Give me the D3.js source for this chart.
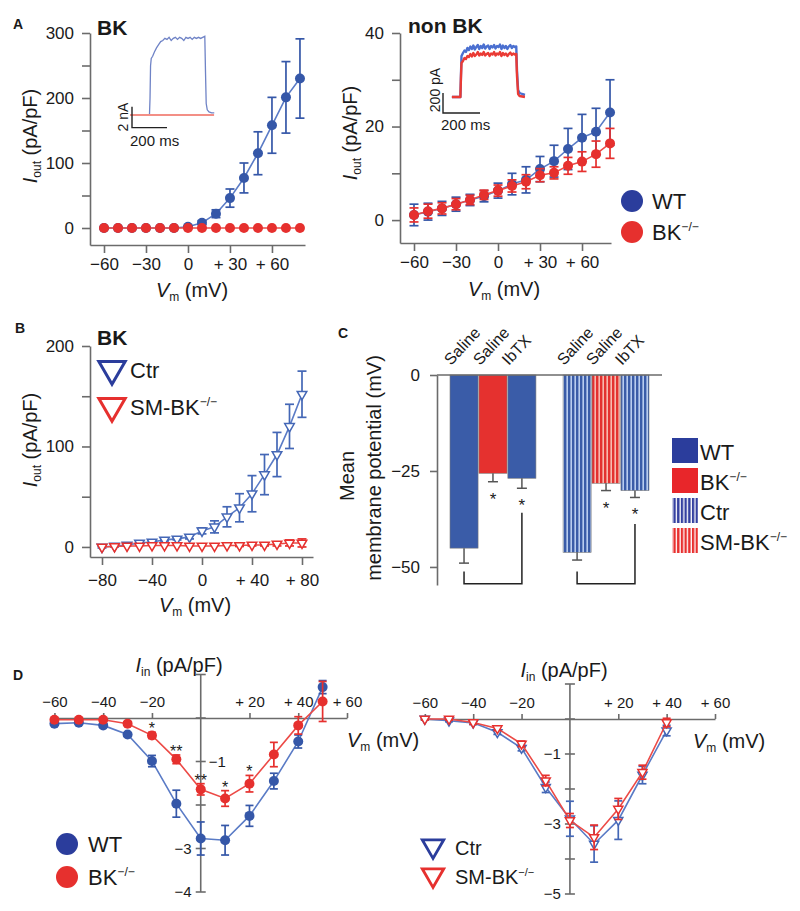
<!doctype html>
<html>
<head>
<meta charset="utf-8" />
<title></title>
<style>
    body { margin: 0; background: #fff; }
    svg text { font-family: "Liberation Sans", Arial, sans-serif; fill: #1a1a1a; }
</style>
</head>
<body>
<script src="https://cdn.jsdelivr.net/npm/d3@7"></script>
<script>
// ---- panel A : outward current, BK and non BK ----
var vmA = [-60,-50,-40,-30,-20,-10,0,10,20,30,40,50,60,70,80];
var bkWT = [0,0,0,0,0,0,2,8,22,46,77,115,158,201,230];
var bkWTErr = [0,0,0,0,0,0,1,3,6,14,23,33,43,55,61];
var bkKO = [0,0,0,0,0,0,0,0,0,0,0,0,0,0,0];
var bkKOErr = [0,0,0,0,0,0,0,0,0,0,0,0,0,0,0];
var nonWT = [1.1,1.8,2.5,3.4,4.3,5.1,6.3,7.7,8.6,10.9,12.6,15.2,17.6,18.9,23.0];
var nonWTErr = [2.3,1.8,1.5,1.5,1.2,1.2,1.6,2.3,2.8,2.7,3.4,4.4,5.0,5.0,7.0];
var nonKO = [1.1,1.9,2.5,3.4,4.3,5.4,6.3,7.3,8.2,9.6,10.1,11.6,12.5,14.1,16.4];
var nonKOErr = [1.5,1.5,1.2,1.2,1.0,1.0,1.2,1.3,1.5,1.4,1.3,1.8,2.1,2.8,3.2];
var xTicksA = [-60,-30,0,30,60];

// inset traces (ms, nA) and (ms, pA)
var insetLeftT = [100,103,106,110,118,128,140,152,164,176,188,200,212,224,236,248,260,272,284,296,308,320,332,344,356,368,380,392,404,416,420,424,430,440,455,470];
var insetLeftWT = [0,1.5,4.6,5.3,5.5,5.9,6.3,6.6,6.9,7.0,7.2,7.1,7.3,7.0,7.2,7.3,7.1,7.3,7.2,7.0,7.3,7.2,7.3,7.1,7.3,7.2,7.3,7.2,7.3,7.4,4.0,1.0,0.4,0.2,0.1,0.1];
var insetLeftKOT = [-11,469];
var insetLeftKO = [-0.1,-0.1];
var insetRightT = [48,94,97,100,108,116,124,132,140,148,156,164,172,180,188,196,204,212,220,228,236,244,252,260,268,276,284,292,300,308,316,324,332,340,348,356,364,372,380,388,396,400,406,414,428,443];
var insetRightWT = [-10,-10,200,400,430,455,440,480,460,495,470,505,465,490,510,470,500,480,515,475,495,505,470,500,485,510,475,500,490,515,470,505,480,500,470,495,510,480,500,490,495,250,60,30,20,10];
var insetRightKO = [-10,-10,180,330,350,380,370,400,390,420,395,430,400,415,440,405,425,410,440,405,420,430,400,425,415,440,405,425,415,440,400,430,410,425,400,420,435,410,425,415,420,200,20,0,-5,-10];

// ---- panel B : smooth muscle specific knockout ----
var vmB = [-80,-70,-60,-50,-40,-30,-20,-10,0,10,20,30,40,50,60,70,80];
var ctrB = [0,1,2,4,5,7,8,10,16,20,30,39,53,72,92,120,152];
var ctrBErr = [1,1,1,1,1,1,1,2,3,6,10,14,18,20,22,22,23];
var smB = [0,0.5,1,1,1.5,1.5,1.5,1,1,1,1.5,1.5,2,2,3,4,4];
var smBErr = [0,0,0,0,0,0,0,0,0,0,0,1,1,1,2,3,4];
var xTicksB = [-80,-40,0,40,80];

// ---- panel C : membrane potential ----
var cLabels = ["Saline","Saline","IbTX","Saline","Saline","IbTX"];
var cGroups = ["global","global","global","sm","sm","sm"];
var cKinds = ["WT","BK","WT","Ctr","SM","Ctr"];
var cMeans = [-45.1,-25.6,-26.9,-46.2,-28.2,-30.1];
var cErr = [3.9,2.2,2.6,2.0,1.9,1.8];
var cStars = ["","*","*","","*","*"];
var cBracketBase = -54.4, cBracketLeft = -51.2;
var cBracketRight = [-35.9,-38.8];
var cTicks = [0,-25,-50];

// ---- panel D : inward current ----
var vmD = [-60,-50,-40,-30,-20,-10,0,10,20,30,40,50];
var wtD = [-0.13,-0.11,-0.17,-0.38,-0.99,-1.97,-2.77,-2.81,-2.25,-1.45,-0.54,0.71];
var wtDErr = [0.03,0.03,0.03,0.04,0.13,0.31,0.38,0.34,0.24,0.18,0.15,0.15];
var koD = [-0.04,-0.04,-0.04,-0.13,-0.40,-0.95,-1.64,-1.85,-1.51,-0.84,-0.17,0.38];
var koDErr = [0.03,0.03,0.03,0.04,0.07,0.10,0.13,0.18,0.19,0.28,0.20,0.46];
var starsD = ["","","","","*","**","**","*","*","","",""];
var vmD2 = [-60,-50,-40,-30,-20,-10,0,10,20,30,40];
var ctrD = [0,-0.05,-0.11,-0.38,-0.83,-1.95,-2.85,-3.57,-2.89,-1.60,-0.33];
var ctrDErr = [0.03,0.03,0.05,0.06,0.08,0.15,0.50,0.52,0.55,0.25,0.15];
var smD = [0,0,-0.10,-0.27,-0.71,-1.76,-2.90,-3.38,-2.57,-1.52,-0.10];
var smDErr = [0.03,0.03,0.05,0.06,0.08,0.15,0.20,0.35,0.30,0.20,0.12];
var xTicksD = [-60,-40,-20,20,40,60];

var BLUE = "#3557a8", BLUE_L = "#5a7bc6", BLUE_D = "#2b3d9c";
var RED = "#e6302e", RED_L = "#ec4a46";
var AX = "#6b6b6b";

var svg = d3.select("body").append("svg").attr("width", 800).attr("height", 911);
var defs = svg.append("defs");

function signed(d) {
    if (d === 0) return "0";
    return d > 0 ? "+ " + d : "\u2212" + Math.abs(d);
}

function styleAxis(g, fs) {
    g.attr("font-family", null).attr("font-size", null);
    g.select(".domain").attr("stroke", AX).attr("stroke-width", 1.6);
    g.selectAll(".tick line").attr("stroke", AX).attr("stroke-width", 1.6);
    g.selectAll(".tick text").attr("fill", "#1a1a1a").style("font-size", fs + "px");
}

function text(x, y, s, fs, opts) {
    opts = opts || {};
    return svg.append("text").attr("x", x).attr("y", y).text(s)
        .style("font-size", fs + "px")
        .style("font-weight", opts.bold ? "bold" : null)
        .attr("text-anchor", opts.anchor || "start");
}

function iTitle(x, y, sub, fs, rotate) {
    var t = svg.append("text").attr("text-anchor", "middle").style("font-size", fs + "px")
        .attr("transform", "translate(" + x + "," + y + ")" + (rotate ? " rotate(-90)" : ""));
    t.append("tspan").text("I").style("font-style", "italic");
    t.append("tspan").text(sub).attr("dy", 4).style("font-size", (fs * 0.6) + "px");
    t.append("tspan").text(" (pA/pF)").attr("dy", -4);
}

function vTitle(x, y, fs, anchor) {
    var t = svg.append("text").attr("x", x).attr("y", y).attr("text-anchor", anchor || "middle")
        .style("font-size", fs + "px");
    t.append("tspan").text("V").style("font-style", "italic");
    t.append("tspan").text("m").attr("dy", 4).style("font-size", (fs * 0.6) + "px");
    t.append("tspan").text(" (mV)").attr("dy", -4);
}

function supLabel(x, y, main, sup, fs) {
    var t = text(x, y, "", fs);
    t.append("tspan").text(main);
    t.append("tspan").text(sup).attr("dy", -fs * 0.42).style("font-size", (fs * 0.55) + "px");
}

var tri = function(size) { return d3.symbol().type(d3.symbolTriangle).size(size)(); };

function drawSeries(x, y, xs, ys, es, o) {
    var g = svg.append("g");
    var pts = xs.map(function(v, i) { return {x: v, y: ys[i], e: es[i], i: i}; });
    g.append("path").datum(pts)
        .attr("fill", "none").attr("stroke", o.line).attr("stroke-width", 1.6)
        .attr("d", d3.line().x(function(d) { return x(d.x); }).y(function(d) { return y(d.y); }));
    var eb = g.append("g").attr("stroke", o.col).attr("stroke-width", 1.7);
    var w = o.cap || 4.5;
    pts.filter(function(d) { return d.e > 0; }).forEach(function(d) {
        var cx = x(d.x), a = y(d.y + d.e), b = y(d.y - d.e);
        eb.append("line").attr("x1", cx).attr("x2", cx).attr("y1", a).attr("y2", b);
        eb.append("line").attr("x1", cx - w).attr("x2", cx + w).attr("y1", a).attr("y2", a);
        eb.append("line").attr("x1", cx - w).attr("x2", cx + w).attr("y1", b).attr("y2", b);
    });
    if (o.marker === "circle") {
        g.selectAll("circle").data(pts).enter().append("circle")
            .attr("cx", function(d) { return x(d.x); })
            .attr("cy", function(d) { return y(d.y); })
            .attr("r", o.r).attr("fill", o.col);
    } else {
        g.selectAll(".tri").data(pts).enter().append("path")
            .attr("d", tri(o.size))
            .attr("transform", function(d) { return "translate(" + x(d.x) + "," + y(d.y) + ") rotate(180)"; })
            .attr("fill", "#fff").attr("stroke", o.col).attr("stroke-width", 1.5);
    }
    return g;
}

// ================= Panel A left =================
var xA1 = d3.scaleLinear().domain([-70, 83.6]).range([90, 305]);
var yA1 = d3.scaleLinear().domain([-26.15, 300]).range([245, 33]);
styleAxis(svg.append("g").attr("transform", "translate(0,245)")
    .call(d3.axisBottom(xA1).tickValues(xTicksA).tickFormat(signed).tickSize(8).tickSizeOuter(0).tickPadding(5)), 17);
styleAxis(svg.append("g").attr("transform", "translate(90,0)")
    .call(d3.axisLeft(yA1).tickValues([0,50,100,150,200,250,300])
        .tickFormat(function(d) { return d % 100 === 0 ? d : ""; }).tickSize(8).tickSizeOuter(0).tickPadding(8)), 17);
drawSeries(xA1, yA1, vmA, bkWT, bkWTErr, {col: BLUE, line: BLUE_L, marker: "circle", r: 5});
drawSeries(xA1, yA1, vmA, bkKO, bkKOErr, {col: RED, line: RED_L, marker: "circle", r: 5});

// inset left
var xI1 = d3.scaleLinear().domain([0, 200]).range([132, 167]);
var yI1 = d3.scaleLinear().domain([0, 2]).range([114, 93]);
svg.append("path").datum(insetLeftT.map(function(t, i) { return [t, insetLeftWT[i]]; }))
    .attr("fill", "none").attr("stroke", "#6f83c6").attr("stroke-width", 1.3)
    .attr("d", d3.line().x(function(d) { return xI1(d[0]); }).y(function(d) { return yI1(d[1]); }));
svg.append("path").datum(insetLeftKOT.map(function(t, i) { return [t, insetLeftKO[i]]; }))
    .attr("fill", "none").attr("stroke", "#ef6a5e").attr("stroke-width", 1.5)
    .attr("d", d3.line().x(function(d) { return xI1(d[0]); }).y(function(d) { return yI1(d[1]); }));
svg.append("path").attr("fill", "none").attr("stroke", "#222").attr("stroke-width", 1.4)
    .attr("d", "M" + xI1(0) + "," + yI1(0.7) + "V" + yI1(-1.3) + "H" + xI1(200));
svg.append("text").attr("transform", "translate(128,117) rotate(-90)").attr("text-anchor", "middle")
    .style("font-size", "14px").text("2 nA");
text(130, 146, "200 ms", 15);

// ================= Panel A right =================
var xA2 = d3.scaleLinear().domain([-70, 80.7]).range([400, 611]);
var yA2 = d3.scaleLinear().domain([-4.9, 40]).range([243, 33]);
styleAxis(svg.append("g").attr("transform", "translate(0,243)")
    .call(d3.axisBottom(xA2).tickValues(xTicksA).tickFormat(signed).tickSize(8).tickSizeOuter(0).tickPadding(5)), 17);
styleAxis(svg.append("g").attr("transform", "translate(400,0)")
    .call(d3.axisLeft(yA2).tickValues([0,10,20,30,40])
        .tickFormat(function(d) { return d % 20 === 0 ? d : ""; }).tickSize(8).tickSizeOuter(0).tickPadding(8)), 17);
drawSeries(xA2, yA2, vmA, nonWT, nonWTErr, {col: BLUE, line: BLUE_L, marker: "circle", r: 5});
drawSeries(xA2, yA2, vmA, nonKO, nonKOErr, {col: RED, line: RED_L, marker: "circle", r: 5});

// inset right
var xI2 = d3.scaleLinear().domain([0, 200]).range([443, 480]);
var yI2 = d3.scaleLinear().domain([0, 200]).range([96, 76]);
[[insetRightWT, "#4a6fd0"], [insetRightKO, "#ea3b35"]].forEach(function(s) {
    svg.append("path").datum(insetRightT.map(function(t, i) { return [t, s[0][i]]; }))
        .attr("fill", "none").attr("stroke", s[1]).attr("stroke-width", 2.4).attr("stroke-linejoin", "round")
        .attr("d", d3.line().x(function(d) { return xI2(d[0]); }).y(function(d) { return yI2(d[1]); }));
});
svg.append("path").attr("fill", "none").attr("stroke", "#222").attr("stroke-width", 1.4)
    .attr("d", "M" + xI2(0) + "," + yI2(30) + "V" + yI2(-170) + "H" + xI2(200));
svg.append("text").attr("transform", "translate(440,90) rotate(-90)").attr("text-anchor", "middle")
    .style("font-size", "14px").text("200 pA");
text(441, 130, "200 ms", 15);

// legend A
[[BLUE_D, "WT", ""], [RED, "BK", "\u2212/\u2212"]].forEach(function(l, i) {
    svg.append("circle").attr("cx", 632).attr("cy", 201 + i * 31).attr("r", 11).attr("fill", l[0]);
    supLabel(652, 209 + i * 31, l[1], l[2], 22);
});

// labels A
text(13, 29, "A", 14, {bold: true});
text(97, 35, "BK", 21, {bold: true});
text(408, 33, "non BK", 21, {bold: true});
iTitle(37, 136, "out", 20, true);
iTitle(357, 133, "out", 20, true);
vTitle(192, 297, 20);
vTitle(504, 296, 20);

// ================= Panel B =================
var xB = d3.scaleLinear().domain([-89.6, 88.8]).range([90, 313]);
var yB = d3.scaleLinear().domain([-10, 200]).range([557, 346]);
styleAxis(svg.append("g").attr("transform", "translate(0,557)")
    .call(d3.axisBottom(xB).tickValues(xTicksB).tickFormat(signed).tickSize(8).tickSizeOuter(0).tickPadding(9)), 17);
styleAxis(svg.append("g").attr("transform", "translate(90,0)")
    .call(d3.axisLeft(yB).tickValues([0,50,100,150,200])
        .tickFormat(function(d) { return d % 100 === 0 ? d : ""; }).tickSize(8).tickSizeOuter(0).tickPadding(8)), 17);
drawSeries(xB, yB, vmB, ctrB, ctrBErr, {col: "#4467b6", line: BLUE_L, marker: "tri", size: 40});
drawSeries(xB, yB, vmB, smB, smBErr, {col: RED, line: RED_L, marker: "tri", size: 40});
[[BLUE_D, "Ctr", ""], [RED, "SM-BK", "\u2212/\u2212"]].forEach(function(l, i) {
    svg.append("path").attr("d", tri(300))
        .attr("transform", "translate(112," + (369 + i * 37) + ") rotate(180)")
        .attr("fill", "#fff").attr("stroke", l[0]).attr("stroke-width", 3);
    supLabel(130, 378 + i * 37, l[1], l[2], 22);
});
text(15, 333, "B", 14, {bold: true});
text(97, 345, "BK", 21, {bold: true});
iTitle(37, 440, "out", 20, true);
vTitle(195, 612, 20);

// ================= Panel C =================
function stripe(id, base, light, w, lw) {
    var p = defs.append("pattern").attr("id", id).attr("patternUnits", "userSpaceOnUse")
        .attr("width", w).attr("height", 10);
    p.append("rect").attr("width", w).attr("height", 10).attr("fill", base);
    p.append("rect").attr("x", w - lw).attr("width", lw).attr("height", 10).attr("fill", light);
}
stripe("stCtr", "#3a5ca8", "#b9cdef", 4, 1.6);
stripe("stSM", "#e3312f", "#f7b9ae", 4, 1.6);
stripe("stCtrL", "#3440a0", "#ffffff", 3.7, 1.3);
stripe("stSML", "#e8302f", "#ffffff", 3.7, 1.3);
var cFill = {WT: "#3a5ca8", BK: "#e5312f", Ctr: "url(#stCtr)", SM: "url(#stSM)"};

var xC = d3.scaleBand().domain(["global", "sm"]).range([437, 662]).paddingInner(0.24).paddingOuter(0.115);
var xCi = d3.scaleBand().domain([0, 1, 2]).range([0, xC.bandwidth()]).paddingInner(0.03);
var yC = d3.scaleLinear().domain([-54.7, 0]).range([585, 375]);
var cData = cMeans.map(function(m, i) {
    return {m: m, e: cErr[i], g: cGroups[i], k: cKinds[i], lab: cLabels[i], star: cStars[i], j: i % 3};
});
var bx = function(d) { return xC(d.g) + xCi(d.j); };
var cg = svg.append("g");
cg.selectAll("rect").data(cData).enter().append("rect")
    .attr("x", bx).attr("y", yC(0)).attr("width", xCi.bandwidth())
    .attr("height", function(d) { return yC(d.m) - yC(0); })
    .attr("fill", function(d) { return cFill[d.k]; })
    .attr("stroke", "#7a7a7a").attr("stroke-width", 0.6);
cData.forEach(function(d) {
    var cx = bx(d) + xCi.bandwidth() / 2, a = yC(d.m), b = yC(d.m - d.e);
    cg.append("line").attr("x1", cx).attr("x2", cx).attr("y1", a).attr("y2", b).attr("stroke", "#555").attr("stroke-width", 1.5);
    cg.append("line").attr("x1", cx - 5).attr("x2", cx + 5).attr("y1", b).attr("y2", b).attr("stroke", "#555").attr("stroke-width", 1.5);
    if (d.star) text(cx, b + 23, d.star, 17, {anchor: "middle"});
    svg.append("text").attr("transform", "translate(" + (bx(d) + 1) + ",366) rotate(-47)")
        .style("font-size", "16px").text(d.lab);
});
["global", "sm"].forEach(function(g, i) {
    var x1 = xC(g) + xCi(0) + xCi.bandwidth() / 2, x2 = xC(g) + xCi(2) + xCi.bandwidth() / 2;
    cg.append("path").attr("fill", "none").attr("stroke", "#222").attr("stroke-width", 1.5)
        .attr("d", "M" + x1 + "," + yC(cBracketLeft) + "V" + yC(cBracketBase) + "H" + x2 + "V" + yC(cBracketRight[i]));
});
svg.append("line").attr("x1", 437).attr("x2", 662).attr("y1", yC(0)).attr("y2", yC(0))
    .attr("stroke", AX).attr("stroke-width", 1.6);
styleAxis(svg.append("g").attr("transform", "translate(437,0)")
    .call(d3.axisLeft(yC).tickValues(cTicks).tickFormat(function(d) { return d === 0 ? "0" : "\u2212" + Math.abs(d); })
        .tickSize(7).tickSizeOuter(0).tickPadding(10)), 17);
[["WT", "WT", ""], ["BK", "BK", "\u2212/\u2212"], ["url(#stCtrL)", "Ctr", ""], ["url(#stSML)", "SM-BK", "\u2212/\u2212"]].forEach(function(l, i) {
    var f = l[0] === "WT" ? BLUE_D : l[0] === "BK" ? "#e8262a" : l[0];
    svg.append("rect").attr("x", 672).attr("y", 438 + i * 30).attr("width", 26).attr("height", 25).attr("fill", f);
    supLabel(700, 460 + i * 30, l[1], l[2], 22);
});
text(338, 338, "C", 14, {bold: true});
svg.append("text").attr("transform", "translate(354,476) rotate(-90)").attr("text-anchor", "middle")
    .style("font-size", "20px").text("Mean");
svg.append("text").attr("transform", "translate(381,468) rotate(-90)").attr("text-anchor", "middle")
    .style("font-size", "20px").text("membrane potential (mV)");

// ================= Panel D =================
function dAxes(x, y, x0, yTicks, yLabels, leftRight) {
    styleAxis(svg.append("g").attr("transform", "translate(0," + y(0) + ")")
        .call(d3.axisTop(x).tickValues(xTicksD).tickFormat(signed).tickSize(5).tickSizeOuter(0).tickPadding(6)), 15);
    var yd = y.domain();
    var g = svg.append("g");
    g.append("line").attr("x1", x(0)).attr("x2", x(0)).attr("y1", y(yd[0])).attr("y2", y(yd[1]))
        .attr("stroke", AX).attr("stroke-width", 1.6);
    yTicks.forEach(function(v) {
        g.append("line").attr("x1", x(0) - 5).attr("x2", x(0) + 5).attr("y1", y(v)).attr("y2", y(v))
            .attr("stroke", AX).attr("stroke-width", 1.6);
    });
    yLabels.forEach(function(v) {
        var right = leftRight && v === -1;
        text(right ? x(0) + 8 : x(0) - 9, y(v) + 5, "\u2212" + Math.abs(v), 15, {anchor: right ? "start" : "end"});
    });
}

var xD1 = d3.scaleLinear().domain([-61, 60]).range([52, 347]);
var yD1 = d3.scaleLinear().domain([1, -4]).range([674.5, 892]);
dAxes(xD1, yD1, 0, [1, 0, -1, -2, -3, -4], [-1, -3, -4], true);
drawSeries(xD1, yD1, vmD, wtD, wtDErr, {col: BLUE, line: BLUE_L, marker: "circle", r: 5, cap: 4});
drawSeries(xD1, yD1, vmD, koD, koDErr, {col: RED, line: RED_L, marker: "circle", r: 5, cap: 4});
starsD.forEach(function(s, i) {
    if (s) text(xD1(vmD[i]), yD1(koD[i] + koDErr[i]) + 2, s, 16, {anchor: "middle"});
});
[[BLUE_D, "WT", ""], [RED, "BK", "\u2212/\u2212"]].forEach(function(l, i) {
    svg.append("circle").attr("cx", 67).attr("cy", 844 + i * 33).attr("r", 11).attr("fill", l[0]);
    supLabel(88, 852 + i * 33, l[1], l[2], 22);
});
text(13, 680, "D", 14, {bold: true});
iTitle(179, 672, "in", 20, false);
vTitle(347, 747, 20, "start");

var xD2 = d3.scaleLinear().domain([-62, 60]).range([420, 715]);
var yD2 = d3.scaleLinear().domain([1, -5]).range([684, 894]);
dAxes(xD2, yD2, 0, [1, 0, -1, -2, -3, -4, -5], [-1, -3, -5], false);
drawSeries(xD2, yD2, vmD2, ctrD, ctrDErr, {col: "#4467b6", line: BLUE_L, marker: "tri", size: 36, cap: 4});
drawSeries(xD2, yD2, vmD2, smD, smDErr, {col: RED, line: RED_L, marker: "tri", size: 36, cap: 4});
[[BLUE_D, "Ctr", ""], [RED, "SM-BK", "\u2212/\u2212"]].forEach(function(l, i) {
    svg.append("path").attr("d", tri(200))
        .attr("transform", "translate(433," + (846 + i * 29) + ") rotate(180)")
        .attr("fill", "#fff").attr("stroke", l[0]).attr("stroke-width", 2.8);
    supLabel(455, 855 + i * 29, l[1], l[2], 20);
});
iTitle(564, 677, "in", 20, false);
vTitle(693, 748, 20, "start");
</script>
</body>
</html>
